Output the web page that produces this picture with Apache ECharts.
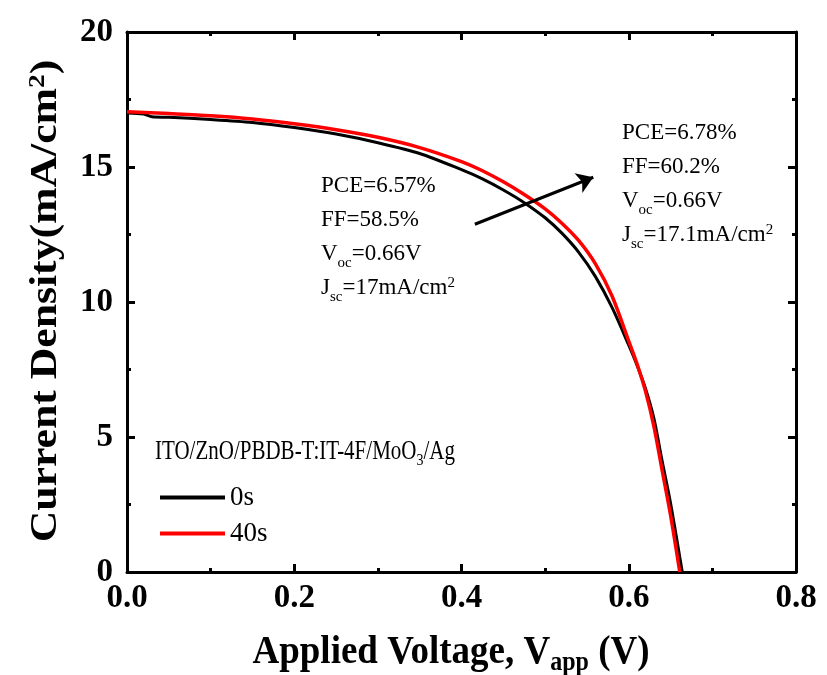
<!DOCTYPE html>
<html>
<head>
<meta charset="utf-8">
<script src="https://cdn.jsdelivr.net/npm/echarts@6/dist/echarts.min.js"></script>
<style>
  html, body { margin: 0; padding: 0; background: #fff; }
  #chart { width: 827px; height: 675px; }
</style>
</head>
<body>
<div id="chart"></div>
<script>
// J-V curves
const v0s = [0, 0.02, 0.03, 0.05, 0.1, 0.15, 0.2, 0.25, 0.3, 0.35, 0.4, 0.425, 0.45, 0.475, 0.5, 0.52, 0.54, 0.56, 0.58, 0.6, 0.61, 0.62, 0.63, 0.64, 0.65, 0.664];
const j0s = [17.0, 16.96, 16.86, 16.84, 16.76, 16.65, 16.46, 16.22, 15.9, 15.5, 14.9, 14.56, 14.15, 13.68, 13.12, 12.55, 11.85, 10.95, 9.8, 8.4, 7.65, 6.8, 5.7, 4.1, 2.55, 0];
const v40s = [0, 0.05, 0.1, 0.15, 0.2, 0.25, 0.3, 0.35, 0.4, 0.425, 0.45, 0.475, 0.5, 0.52, 0.54, 0.56, 0.58, 0.6, 0.61, 0.62, 0.63, 0.64, 0.65, 0.661];
const j40s = [17.05, 16.98, 16.9, 16.78, 16.6, 16.38, 16.1, 15.72, 15.2, 14.86, 14.45, 13.98, 13.45, 12.92, 12.28, 11.42, 10.22, 8.55, 7.7, 6.7, 5.4, 3.75, 2.1, 0];
const seriesNames = ['0s', '40s'];
const arrowFrom = [0.416, 12.88];
const arrowTo = [0.5576, 14.62];

const FONT = '"Liberation Serif", "Times New Roman", serif';

function pairs(xs, ys) {
  return xs.map((x, i) => [x, ys[i]]);
}

const richNote = {
  n: { fontFamily: FONT, fontSize: 23, lineHeight: 34, color: '#000' },
  s: { fontFamily: FONT, fontSize: 15, lineHeight: 15, verticalAlign: 'bottom', color: '#000' },
  p: { fontFamily: FONT, fontSize: 15, lineHeight: 15, verticalAlign: 'top', padding: [5, 0, 0, 0], color: '#000' }
};

let chart = echarts.init(document.getElementById('chart'), null, { renderer: 'canvas' });

const axisLine = { show: true, onZero: false, lineStyle: { color: '#000', width: 3 } };
const axisTick = { show: true, inside: true, length: 8, lineStyle: { color: '#000', width: 3 } };
const minorTick = { show: true, splitNumber: 2, length: 4, lineStyle: { color: '#000', width: 3 } };

let option = {
  animation: false,
  grid: { left: 127, right: 31, top: 32, bottom: 103 },
  xAxis: [
    {
      type: 'value', min: 0, max: 0.8, interval: 0.2,
      axisLine: axisLine, axisTick: axisTick, minorTick: minorTick,
      splitLine: { show: false },
      axisLabel: {
        margin: 10,
        formatter: v => v.toFixed(1),
        fontFamily: FONT, fontSize: 33, fontWeight: 'bold', color: '#000'
      }
    },
    {
      type: 'value', position: 'top', min: 0, max: 0.8, interval: 0.2,
      axisLine: axisLine, axisTick: axisTick, minorTick: minorTick,
      splitLine: { show: false }, axisLabel: { show: false }
    }
  ],
  yAxis: [
    {
      type: 'value', min: 0, max: 20, interval: 5,
      axisLine: axisLine, axisTick: axisTick, minorTick: minorTick,
      splitLine: { show: false },
      axisLabel: {
        margin: 14,
        fontFamily: FONT, fontSize: 33, fontWeight: 'bold', color: '#000'
      }
    },
    {
      type: 'value', position: 'right', min: 0, max: 20, interval: 5,
      axisLine: axisLine, axisTick: axisTick, minorTick: minorTick,
      splitLine: { show: false }, axisLabel: { show: false }
    }
  ],
  legend: {
    data: seriesNames,
    orient: 'vertical',
    left: 155,
    top: 479,
    itemWidth: 65,
    itemHeight: 4,
    itemGap: 9,
    icon: 'rect',
    textStyle: { fontFamily: FONT, fontSize: 27, color: '#000' }
  },
  series: [
    {
      name: seriesNames[0],
      type: 'line',
      data: pairs(v0s, j0s),
      showSymbol: false,
      smooth: 0.3,
      color: '#000',
      lineStyle: { color: '#000', width: 3 },
      z: 2,
      markLine: {
        silent: true,
        symbol: ['none', 'arrow'],
        symbolSize: 16,
        label: { show: false },
        lineStyle: { color: '#000', width: 3, type: 'solid' },
        data: [[{ coord: arrowFrom }, { coord: arrowTo }]]
      }
    },
    {
      name: seriesNames[1],
      type: 'line',
      data: pairs(v40s, j40s),
      showSymbol: false,
      smooth: 0.3,
      color: '#ff0000',
      lineStyle: { color: '#ff0000', width: 3.5 },
      z: 3
    }
  ],
  graphic: [
    {
      type: 'text', x: 46, y: 301, rotation: Math.PI / 2, scaleX: 1.15,
      style: {
        text: '{t|Current Density(mA/cm}{p|2}{t|)}',
        align: 'center', verticalAlign: 'middle',
        rich: {
          t: { fontFamily: FONT, fontSize: 38, fontWeight: 'bold', lineHeight: 44, color: '#000' },
          p: { fontFamily: FONT, fontSize: 24, fontWeight: 'bold', lineHeight: 24, verticalAlign: 'top', padding: [2, 0, 0, 0], color: '#000' }
        }
      }
    },
    {
      type: 'text', x: 451, y: 652, scaleY: 1.1,
      style: {
        text: '{t|Applied Voltage, V}{s|app}{t| (V)}',
        align: 'center', verticalAlign: 'middle',
        rich: {
          t: { fontFamily: FONT, fontSize: 37, fontWeight: 'bold', lineHeight: 44, color: '#000' },
          s: { fontFamily: FONT, fontSize: 24, fontWeight: 'bold', lineHeight: 24, verticalAlign: 'bottom', color: '#000' }
        }
      }
    },
    {
      type: 'text', x: 321, y: 169,
      style: {
        text: '{n|PCE=6.57%}\n{n|FF=58.5%}\n{n|V}{s|oc}{n|=0.66V}\n{n|J}{s|sc}{n|=17mA/cm}{p|2}',
        align: 'left', verticalAlign: 'top',
        rich: richNote
      }
    },
    {
      type: 'text', x: 622, y: 116,
      style: {
        text: '{n|PCE=6.78%}\n{n|FF=60.2%}\n{n|V}{s|oc}{n|=0.66V}\n{n|J}{s|sc}{n|=17.1mA/cm}{p|2}',
        align: 'left', verticalAlign: 'top',
        rich: richNote
      }
    },
    {
      type: 'text', x: 155, y: 452, scaleY: 1.25,
      style: {
        text: '{n|ITO/ZnO/PBDB-T:IT-4F/MoO}{s|3}{n|/Ag}',
        align: 'left', verticalAlign: 'middle',
        rich: {
          n: { fontFamily: FONT, fontSize: 21, lineHeight: 28, color: '#000' },
          s: { fontFamily: FONT, fontSize: 14, lineHeight: 14, verticalAlign: 'bottom', color: '#000' }
        }
      }
    }
  ]
};

chart.setOption(option);
</script>
</body>
</html>
